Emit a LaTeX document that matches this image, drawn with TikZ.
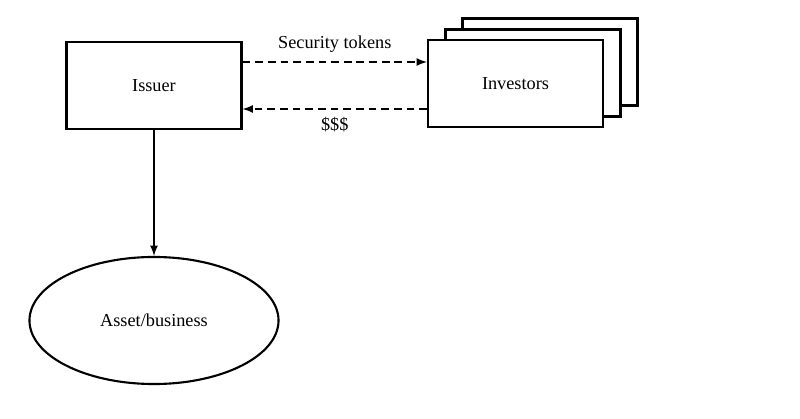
\documentclass[tikz,border=0pt]{standalone}
\usepackage{fontspec}
\setmainfont{Liberation Serif}
\usetikzlibrary{shapes.geometric,arrows,positioning}

\tikzset{
	box/.style={draw,line width=1.5pt,fill=white,minimum width=4.375cm,minimum height=2.175cm,font=\fontsize{13}{15}\selectfont},
	oval/.style={ellipse,draw,line width=1.5pt,minimum width=6.225cm,minimum height=3.175cm,font=\fontsize{13}{15}\selectfont},
	flow/.style={-latex,line width=1.5pt,dash pattern=on 5.5pt off 3.5pt},
}

\begin{document}
\begin{tikzpicture}[x=0.025cm,y=-0.025cm]
	\useasboundingbox (0,0) rectangle (800,419);
	\node[box] (inv3) at (550,62) {};
	\node[box] (inv2) at (533,73) {};
	\node[box] (inv) at (515.5,83.5) {Investors};
	\node[box] (issuer) at (154,85.5) {Issuer};
	\node[oval] (asset) at (154,320.5) {Asset/business};
	\coordinate (top) at (0,62);
	\coordinate (bot) at (0,109);
	\draw[flow] (issuer.east |- top) -- (inv.west |- top) node[midway,above=3pt,font=\fontsize{13}{15}\selectfont] (tok) {Security tokens};
	\draw[flow] (inv.west |- bot) -- (issuer.east |- bot) node[midway,below=2pt,font=\fontsize{13}{15}\selectfont] (cash) {\$\$\$};
	\draw[-latex,line width=1.5pt] (issuer.south) -- (asset.north);
\end{tikzpicture}
\end{document}
